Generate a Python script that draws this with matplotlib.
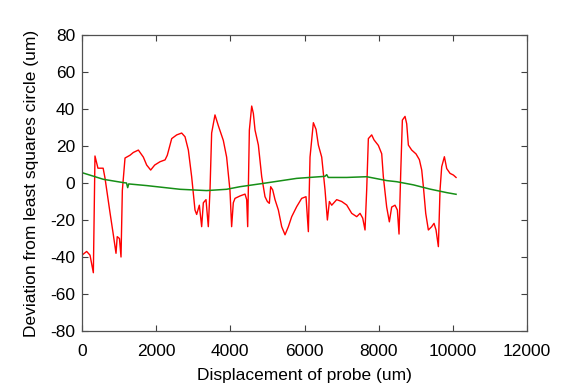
import matplotlib.pyplot as plt

# red trace: deviation of measured profile
red_x = [0, 126, 216, 306, 350, 430, 570, 620, 755, 845, 917, 950, 1010, 1052,
         1088, 1160, 1294, 1384, 1520, 1654, 1744, 1852, 1960, 2104, 2240, 2300,
         2419, 2554, 2688, 2778, 2868, 2957, 3047, 3092, 3164, 3227, 3272, 3344,
         3406, 3452, 3496, 3586, 3676, 3811, 3900, 3990, 4035, 4080, 4126, 4261,
         4396, 4441, 4468, 4513, 4576, 4621, 4666, 4756, 4846, 4935, 4998, 5052,
         5088, 5142, 5205, 5295, 5385, 5475, 5565, 5655, 5789, 5924, 6041, 6104,
         6149, 6239, 6311, 6374, 6464, 6554, 6617, 6671, 6734, 6868, 7003, 7138,
         7273, 7408, 7498, 7570, 7632, 7677, 7722, 7812, 7875, 7992, 8082, 8126,
         8216, 8288, 8351, 8441, 8504, 8549, 8594, 8639, 8711, 8756, 8801, 8891,
         9008, 9098, 9161, 9206, 9269, 9340, 9430, 9493, 9547, 9610, 9655, 9700,
         9772, 9835, 9925, 10015, 10087]
red_y = [-39, -37, -39, -48.5, 14.6, 8, 8, 2.7, -16, -28, -38, -29, -30, -40,
         -4, 13.5, 15, 16.5, 17.8, 14, 9.7, 7, 9.7, 11.5, 12.5, 15,
         24, 26, 27, 25, 17.8, 3.4, -14.6, -17, -12, -23.6, -10.7, -9,
         -23.6, -3.7, 27, 36.8, 31, 23, 14, -4, -23.6, -10.7, -8.3, -7,
         -6, -9, -23.6, 28.6, 41.6, 37.6, 28.6, 20.5, 3.4, -7.4, -10, -11,
         -2, -3.7, -9, -14.6, -23.6, -28, -23.6, -18.2, -12.8, -8.3, -7.4, -26.3,
         14, 32.6, 29, 20.5, 14, -3.8, -20, -10, -12, -9, -10, -11.9,
         -16.4, -18.2, -16.4, -19, -25.4, -3.7, 24, 26, 23.3, 20.3, 15.8, 3.4,
         -13, -21, -13, -12, -14.6, -27.6, 5, 34, 36, 32, 20.5, 17.8,
         15.7, 12.6, 7, -2, -16.4, -25.4, -23.6, -21.8, -25.4, -34.4, -3.7, 8.8,
         14.2, 7.8, 5.2, 4.3, 3]

# green trace: smooth trend
green_x = [0, 575, 1115, 1200, 1232, 1260, 1744, 2643, 3362, 3900, 4261, 4890,
           5789, 6550, 6599, 6640, 7138, 7677, 8217, 8486, 8935, 9385, 9835, 10087]
green_y = [5.6, 2, 0.2, 0, -2.5, -0.5, -1.4, -3.4, -4.1, -3.4, -2, -0.2,
           2.5, 3.6, 4.5, 3, 3, 3.4, 1.3, 0.7, -1, -3.3, -5.2, -6.1]

plt.rcParams['font.family'] = ['Liberation Sans', 'DejaVu Sans']
plt.rcParams['axes.unicode_minus'] = False

fig = plt.figure(figsize=(5.62, 3.89), dpi=100)
ax = fig.add_axes([82 / 562, 58 / 389, 445 / 562, 296 / 389])
ax.plot(red_x, red_y, color='#ff0000', linewidth=1.0)
ax.plot(green_x, green_y, color='#168f16', linewidth=1.1)

ax.set_xlim(0, 12000)
ax.set_ylim(-80, 80)
ax.set_xticks(range(0, 12001, 2000))
ax.set_yticks(range(-80, 81, 20))
ax.tick_params(direction='in', top=True, right=True, length=4, width=0.8,
               labelsize=12.5, colors='#404040', labelcolor='black')
ax.tick_params(axis='x', pad=9)
ax.tick_params(axis='y', pad=5)
for s in ax.spines.values():
    s.set_color('#505050')
    s.set_linewidth(0.9)
ax.set_xlabel('Displacement of probe (um)', fontsize=12.5, labelpad=7)
ax.set_ylabel('Deviation from least squares circle (um)', fontsize=12.5, labelpad=8)

fig.savefig('out.png', dpi=100)
